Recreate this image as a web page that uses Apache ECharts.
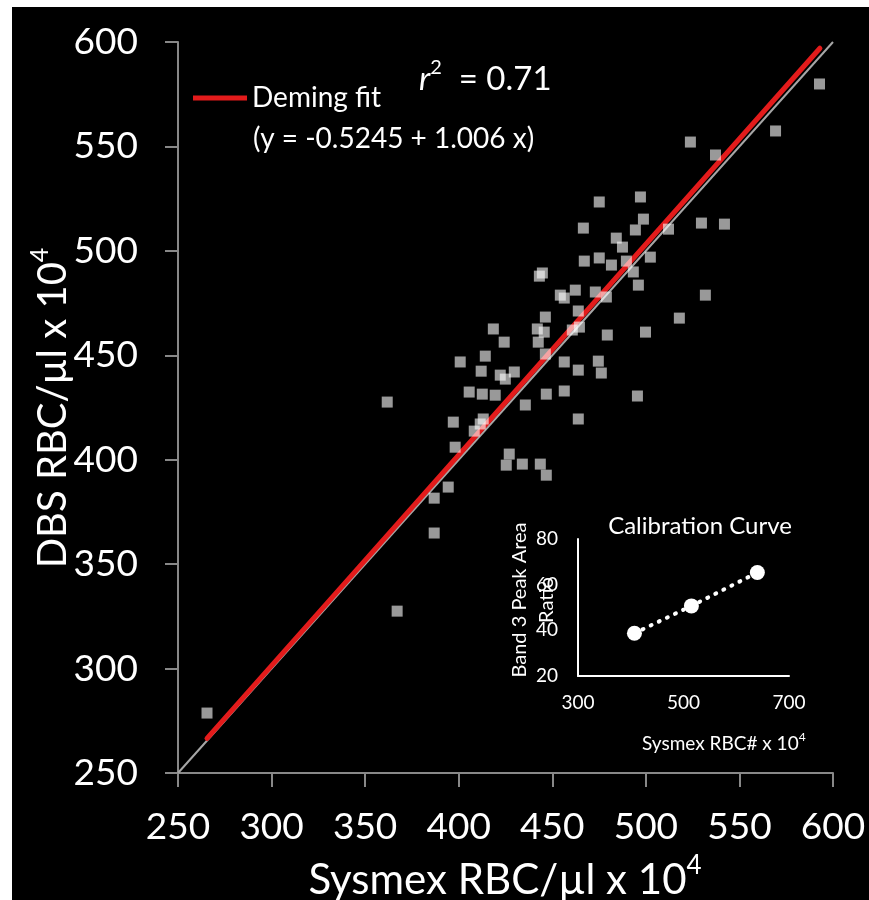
<!DOCTYPE html>
<html>
<head>
<meta charset="utf-8">
<script src="https://cdn.jsdelivr.net/npm/echarts@6/dist/echarts.min.js"></script>
<style>
html,body{margin:0;padding:0;background:#fff;}
#chart{position:absolute;left:12px;top:7px;width:857px;height:893px;}
</style>
</head>
<body>
<div id="chart"></div>
<script>
// Main scatter: Sysmex RBC (x) vs DBS RBC (y), values x 10^4 per µl
const sysmexRBC = [444.7,443.1,454.3,456.4,446.3,418.5,442.0,445.7,424.3,442.5,446.3,456.4,400.8,414.2,412.0,422.2,424.9,429.7,405.6,412.6,419.5,446.8,456.4,435.6,361.8,397.1,413.1,411.5,408.3,398.1,427.0,425.4,434.0,443.6,446.8,394.4,386.9,386.9,367.1,265.5,
  592.8,569.3,523.8,537.2,497.1,475.1,498.7,494.4,466.6,512.1,529.7,542.0,484.2,487.5,467.1,475.1,481.6,489.6,502.4,493.3,496.0,462.3,473.0,478.9,531.8,463.9,517.9,464.5,460.7,479.4,499.8,474.6,463.9,476.2,495.5,463.9];
const dbsRBC = [489.4,487.9,478.8,477.4,468.3,462.6,462.6,461.1,456.3,456.3,450.6,446.8,446.8,449.6,442.4,440.5,438.6,442.0,432.4,431.4,430.9,431.4,432.9,426.2,427.6,418.0,419.5,417.1,413.7,406.0,402.7,397.4,397.9,397.9,392.6,386.9,381.6,364.9,327.5,278.7,
  579.9,557.4,552.1,545.9,525.8,523.4,515.2,510.0,510.9,510.4,513.3,512.8,506.1,501.8,495.1,496.6,493.2,495.1,497.0,489.9,483.6,481.2,480.3,477.9,478.8,471.2,467.8,463.5,462.1,459.7,461.1,447.2,442.9,441.5,430.5,419.5];
// Deming fit line end points
const fitX = [265.5, 593.0];
const fitY = [266.6, 597.0];
// Identity line
const identX = [250, 600];
const identY = [250, 600];
// Axis ticks
const mainTicks = [250, 300, 350, 400, 450, 500, 550, 600];
// Inset calibration curve
const calibX = [407, 515, 640];
const calibY = [38.7, 50.7, 65.3];
const calibXTicks = [300, 500, 700];
const calibYTicks = [20, 40, 60, 80];

const FONT = 'Lato';
const chart = echarts.init(document.getElementById('chart'), null, {renderer: 'canvas'});

const pts = sysmexRBC.map((x, i) => [x, dbsRBC[i]]);
const fitData = fitX.map((x, i) => [x, fitY[i]]);
const identData = identX.map((x, i) => [x, identY[i]]);
const calibData = calibX.map((x, i) => [x, calibY[i]]);

const axisGrey = '#888888';
const RED = '#e31b1b';

const option = {
  backgroundColor: '#000',
  animation: false,
  textStyle: {fontFamily: FONT},
  grid: [
    {left: 166, top: 35, width: 655, height: 731},
    {left: 566, top: 532, width: 211, height: 137}
  ],
  legend: {
    data: [{name: 'Deming fit', icon: 'rect'}],
    left: 181, top: 77, padding: 0,
    itemWidth: 54, itemHeight: 5,
    itemStyle: {color: RED},
    textStyle: {color: '#fff', fontSize: 28, fontFamily: FONT, padding: [0, 0, 0, 0]}
  },
  xAxis: [
    {
      type: 'value', gridIndex: 0,
      min: mainTicks[0], max: mainTicks[mainTicks.length - 1], interval: 50,
      splitLine: {show: false},
      axisLine: {lineStyle: {color: axisGrey, width: 2}},
      axisTick: {inside: false, length: 14, lineStyle: {color: axisGrey, width: 2}},
      axisLabel: {color: '#fff', fontSize: 37, fontFamily: FONT, margin: 36}
    },
    {
      type: 'value', gridIndex: 1,
      min: calibXTicks[0], max: calibXTicks[calibXTicks.length - 1], interval: 200,
      splitLine: {show: false},
      axisLine: {lineStyle: {color: '#fff', width: 2}},
      axisTick: {show: false},
      axisLabel: {color: '#fff', fontSize: 19, fontFamily: FONT, margin: 17}
    }
  ],
  yAxis: [
    {
      type: 'value', gridIndex: 0,
      min: mainTicks[0], max: mainTicks[mainTicks.length - 1], interval: 50,
      splitLine: {show: false},
      axisLine: {show: true, lineStyle: {color: axisGrey, width: 2}},
      axisTick: {show: true, inside: false, length: 13, lineStyle: {color: axisGrey, width: 2}},
      axisLabel: {color: '#fff', fontSize: 37, fontFamily: FONT, margin: 40}
    },
    {
      type: 'value', gridIndex: 1,
      min: calibYTicks[0], max: calibYTicks[calibYTicks.length - 1], interval: 20,
      splitLine: {show: false},
      axisLine: {show: true, lineStyle: {color: '#fff', width: 2}},
      axisTick: {show: false},
      axisLabel: {color: '#fff', fontSize: 19, fontFamily: FONT, margin: 20}
    }
  ],
  series: [
    {
      name: 'identity', type: 'line', xAxisIndex: 0, yAxisIndex: 0,
      data: identData, symbol: 'none', silent: true,
      lineStyle: {color: '#a6a6a6', width: 2}, z: 2
    },
    {
      name: 'Deming fit', type: 'line', xAxisIndex: 0, yAxisIndex: 0,
      data: fitData, symbol: 'none',
      itemStyle: {color: RED},
      lineStyle: {color: RED, width: 5, cap: 'round'}, z: 3
    },
    {
      name: 'data', type: 'scatter', xAxisIndex: 0, yAxisIndex: 0,
      data: pts, symbol: 'rect', symbolSize: 11,
      itemStyle: {color: 'rgba(255,255,255,0.75)'}, z: 5
    },
    {
      name: 'calib', type: 'line', xAxisIndex: 1, yAxisIndex: 1,
      data: calibData, symbol: 'circle', symbolSize: 15, showSymbol: true,
      itemStyle: {color: '#fff'},
      lineStyle: {color: '#fff', width: 4, type: [1, 8], cap: 'round'}, z: 5
    }
  ],
  graphic: [
    {
      type: 'text', x: 38, y: 401, rotation: Math.PI / 2,
      style: {
        text: '{m|DBS RBC/µl x 10}{s|4}',
        align: 'center', verticalAlign: 'middle', fill: '#fff',
        rich: {
          m: {fontSize: 40, fontFamily: FONT, fill: '#fff', lineHeight: 46, verticalAlign: 'bottom'},
          s: {fontSize: 25, fontFamily: FONT, fill: '#fff', lineHeight: 46, verticalAlign: 'top'}
        }
      }
    },
    {
      type: 'text', x: 493, y: 870,
      style: {
        text: '{m|Sysmex RBC/µl x 10}{s|4}',
        align: 'center', verticalAlign: 'middle', fill: '#fff',
        rich: {
          m: {fontSize: 42, fontFamily: FONT, fill: '#fff', lineHeight: 48, verticalAlign: 'bottom'},
          s: {fontSize: 26, fontFamily: FONT, fill: '#fff', lineHeight: 48, verticalAlign: 'top'}
        }
      }
    },
    {
      type: 'text', x: 241, y: 132,
      style: {text: '(y = -0.5245 + 1.006 x)', fontSize: 28, fontFamily: FONT, fill: '#fff', align: 'left', verticalAlign: 'middle'}
    },
    {
      type: 'text', x: 407, y: 70,
      style: {
        text: '{i|r}{s|2}{n|  = 0.71}',
        align: 'left', verticalAlign: 'middle', fill: '#fff',
        rich: {
          i: {fontSize: 33, fontStyle: 'italic', fontFamily: FONT, fill: '#fff', lineHeight: 38, verticalAlign: 'bottom'},
          s: {fontSize: 20, fontFamily: FONT, fill: '#fff', lineHeight: 38, verticalAlign: 'top'},
          n: {fontSize: 33, fontFamily: FONT, fill: '#fff', lineHeight: 38, verticalAlign: 'bottom'}
        }
      }
    },
    {
      type: 'text', x: 688, y: 519,
      style: {text: 'Calibration Curve', fontSize: 24, fontFamily: FONT, fill: '#fff', align: 'center', verticalAlign: 'middle'}
    },
    {
      type: 'text', x: 630, y: 735,
      style: {
        text: '{m|Sysmex RBC# x 10}{s|4}',
        align: 'left', verticalAlign: 'middle', fill: '#fff',
        rich: {
          m: {fontSize: 19, fontFamily: FONT, fill: '#fff', lineHeight: 22, verticalAlign: 'bottom'},
          s: {fontSize: 12, fontFamily: FONT, fill: '#fff', lineHeight: 22, verticalAlign: 'top'}
        }
      }
    },
    {
      type: 'text', x: 521, y: 593, rotation: Math.PI / 2,
      style: {text: 'Band 3 Peak Area\nRatio', fontSize: 20, lineHeight: 27, fontFamily: FONT, fill: '#fff', align: 'center', verticalAlign: 'middle'}
    }
  ]
};
chart.setOption(option);
</script>
</body>
</html>
